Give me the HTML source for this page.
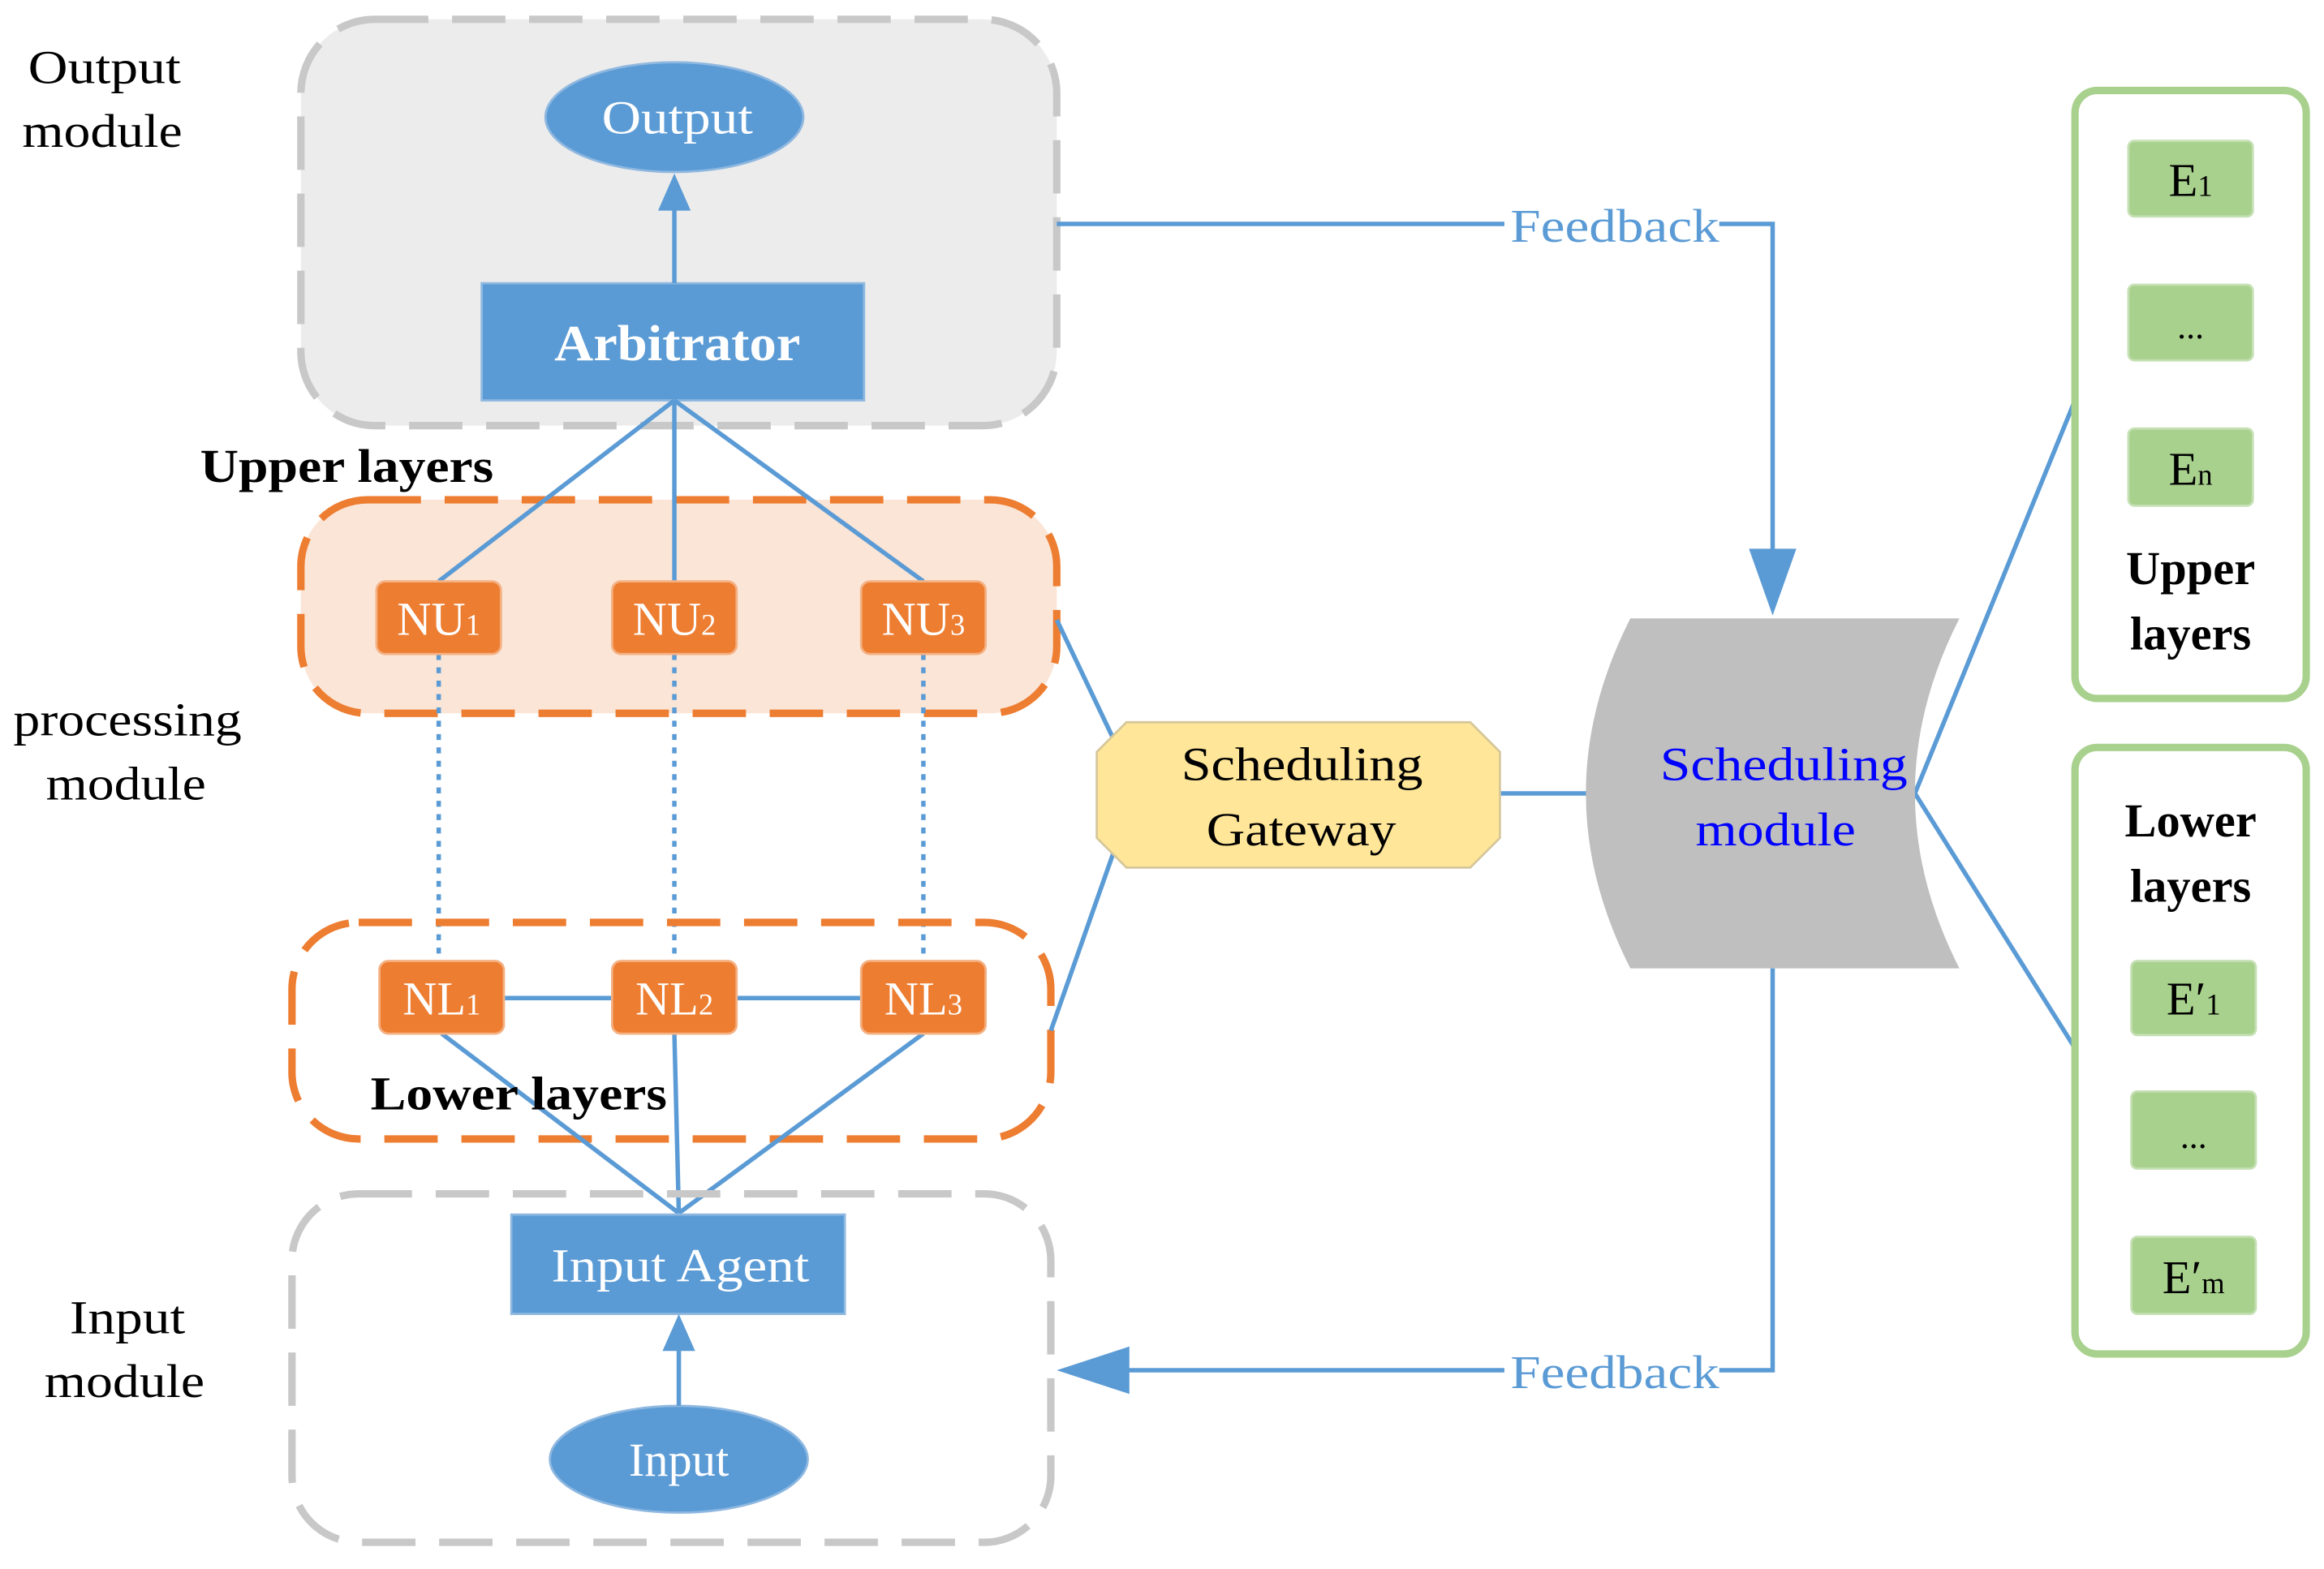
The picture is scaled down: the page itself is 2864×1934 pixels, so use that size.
<!DOCTYPE html>
<html><head><meta charset="utf-8"><style>html,body{margin:0;padding:0;background:#fff}svg{display:block}</style></head>
<body>
<svg width="2864" height="1934" viewBox="0 0 1568 1058" preserveAspectRatio="none" xmlns="http://www.w3.org/2000/svg" font-family="Liberation Serif, serif">
<!-- Output module -->
<rect x="203" y="13" width="510" height="274" rx="50" fill="#ececec" stroke="#c8c8c8" stroke-width="5" stroke-dasharray="36,16"/>
<ellipse cx="455" cy="79" rx="87" ry="37" fill="#5b9bd5" stroke="#8fb8e0" stroke-width="1.5"/>
<text x="406" y="90" font-size="32" fill="#fff" textLength="102" lengthAdjust="spacingAndGlyphs">Output</text>
<rect x="325" y="191" width="258" height="79" fill="#5b9bd5" stroke="#8fb8e0" stroke-width="1.5"/>
<text x="374" y="243" font-size="34" font-weight="bold" fill="#fff" textLength="166" lengthAdjust="spacingAndGlyphs">Arbitrator</text>
<line x1="455" y1="191" x2="455" y2="140" stroke="#5b9bd5" stroke-width="3"/>
<polygon points="455,117 444,142 466,142" fill="#5b9bd5"/>
<!-- Processing upper -->
<text x="135" y="325" font-size="32" font-weight="bold" textLength="198" lengthAdjust="spacingAndGlyphs">Upper layers</text>
<rect x="203" y="337" width="510" height="144" rx="45" fill="#fbe5d6" stroke="#ed7d31" stroke-width="5" stroke-dasharray="36,16"/>
<g stroke="#5b9bd5" stroke-width="3">
<line x1="455" y1="270" x2="296" y2="392"/><line x1="455" y1="270" x2="455" y2="392"/><line x1="455" y1="270" x2="623" y2="392"/>
</g>
<g stroke="#5b9bd5" stroke-width="3" stroke-dasharray="4,5">
<line x1="296" y1="441" x2="296" y2="648"/><line x1="455" y1="441" x2="455" y2="648"/><line x1="623" y1="441" x2="623" y2="648"/>
</g>
<!-- Lower -->
<rect x="197" y="622" width="512" height="146" rx="45" fill="none" stroke="#ed7d31" stroke-width="5" stroke-dasharray="36,16"/>
<g stroke="#5b9bd5" stroke-width="3">
<line x1="340" y1="673" x2="413" y2="673"/><line x1="497" y1="673" x2="581" y2="673"/>
<line x1="298" y1="697" x2="458" y2="818"/><line x1="455" y1="697" x2="458" y2="818"/><line x1="623" y1="697" x2="458" y2="818"/>
</g>
<g fill="#ed7d31" stroke="#f4b183" stroke-width="1.5">
<rect x="254" y="392" width="84" height="49" rx="6"/><rect x="413" y="392" width="84" height="49" rx="6"/><rect x="581" y="392" width="84" height="49" rx="6"/>
<rect x="256" y="648" width="84" height="49" rx="6"/><rect x="413" y="648" width="84" height="49" rx="6"/><rect x="581" y="648" width="84" height="49" rx="6"/>
</g>
<g fill="#fff" font-size="32" text-anchor="middle">
<text x="296" y="428">NU<tspan font-size="20">1</tspan></text>
<text x="455" y="428">NU<tspan font-size="20">2</tspan></text>
<text x="623" y="428">NU<tspan font-size="20">3</tspan></text>
<text x="298" y="684">NL<tspan font-size="20">1</tspan></text>
<text x="455" y="684">NL<tspan font-size="20">2</tspan></text>
<text x="623" y="684">NL<tspan font-size="20">3</tspan></text>
</g>
<text x="250" y="748" font-size="32" font-weight="bold" textLength="200" lengthAdjust="spacingAndGlyphs">Lower layers</text>
<!-- Input module -->
<rect x="197" y="805" width="512" height="235" rx="45" fill="none" stroke="#c8c8c8" stroke-width="5" stroke-dasharray="36,16"/>
<rect x="345" y="819" width="225" height="67" fill="#5b9bd5" stroke="#8fb8e0" stroke-width="1.5"/>
<text x="372" y="864" font-size="32" fill="#fff" textLength="174" lengthAdjust="spacingAndGlyphs">Input Agent</text>
<ellipse cx="458" cy="984" rx="87" ry="36" fill="#5b9bd5" stroke="#8fb8e0" stroke-width="1.5"/>
<text x="458" y="995" font-size="32" fill="#fff" text-anchor="middle">Input</text>
<line x1="458" y1="948" x2="458" y2="908" stroke="#5b9bd5" stroke-width="3"/>
<polygon points="458,886 447,911 469,911" fill="#5b9bd5"/>
<!-- Left labels -->
<g font-size="32">
<text x="19" y="56" textLength="103" lengthAdjust="spacingAndGlyphs">Output</text><text x="15" y="99" textLength="108" lengthAdjust="spacingAndGlyphs">module</text>
<text x="9" y="496" textLength="154" lengthAdjust="spacingAndGlyphs">processing</text><text x="31" y="539" textLength="108" lengthAdjust="spacingAndGlyphs">module</text>
<text x="47" y="899" textLength="78" lengthAdjust="spacingAndGlyphs">Input</text><text x="30" y="942" textLength="108" lengthAdjust="spacingAndGlyphs">module</text>
</g>
<!-- Connectors -->
<g stroke="#5b9bd5" stroke-width="3" fill="none">
<polyline points="713,151 1015,151"/>
<polyline points="1160,151 1196,151 1196,375"/>
<line x1="713" y1="418" x2="753" y2="502"/><line x1="709" y1="695" x2="753" y2="570"/>
<line x1="1012" y1="535" x2="1072" y2="535"/>
<line x1="1292" y1="535" x2="1402" y2="265"/><line x1="1292" y1="535" x2="1402" y2="710"/>
<polyline points="1196,653 1196,924 1160,924"/>
<polyline points="1015,924 758,924"/>
</g>
<polygon points="1196,415 1180,370 1212,370" fill="#5b9bd5"/>
<polygon points="713,924 762,908 762,940" fill="#5b9bd5"/>
<g font-size="32" fill="#5b9bd5">
<text x="1019" y="163" textLength="141" lengthAdjust="spacingAndGlyphs">Feedback</text>
<text x="1019" y="936" textLength="141" lengthAdjust="spacingAndGlyphs">Feedback</text>
</g>
<!-- Gateway -->
<polygon points="760,487 992,487 1012,507 1012,565 992,585 760,585 740,565 740,507" fill="#ffe699" stroke="#d6c79a" stroke-width="1.5"/>
<g font-size="32"><text x="797" y="526" textLength="163" lengthAdjust="spacingAndGlyphs">Scheduling</text><text x="814" y="570" textLength="128" lengthAdjust="spacingAndGlyphs">Gateway</text></g>
<!-- Scheduling module -->
<path d="M1100,417 L1322,417 Q1262,535 1322,653 L1100,653 Q1040,535 1100,417 Z" fill="#bfbfbf"/>
<g font-size="32" fill="#0000ff"><text x="1120" y="526" textLength="167" lengthAdjust="spacingAndGlyphs">Scheduling</text><text x="1144" y="570" textLength="108" lengthAdjust="spacingAndGlyphs">module</text></g>
<!-- Green boxes -->
<rect x="1400" y="61" width="156" height="410" rx="15" fill="#fff" stroke="#a9d18e" stroke-width="5"/>
<rect x="1400" y="504" width="156" height="409" rx="15" fill="#fff" stroke="#a9d18e" stroke-width="5"/>
<g fill="#a9d18e" stroke="#c5e0b4" stroke-width="1.5">
<rect x="1436" y="95" width="84" height="51" rx="4"/><rect x="1436" y="192" width="84" height="51" rx="4"/><rect x="1436" y="289" width="84" height="52" rx="4"/>
<rect x="1438" y="648" width="84" height="50" rx="4"/><rect x="1438" y="736" width="84" height="52" rx="4"/><rect x="1438" y="834" width="84" height="52" rx="4"/>
</g>
<g font-size="32" text-anchor="middle">
<text x="1478" y="132">E<tspan font-size="20">1</tspan></text>
<text x="1478" y="228" font-size="24">...</text>
<text x="1478" y="327">E<tspan font-size="20">n</tspan></text>
<text x="1480" y="684">E′<tspan font-size="20">1</tspan></text>
<text x="1480" y="774" font-size="24">...</text>
<text x="1480" y="872">E′<tspan font-size="20">m</tspan></text>
</g>
<g font-size="32" font-weight="bold" text-anchor="middle">
<text x="1478" y="394">Upper</text><text x="1478" y="438">layers</text>
<text x="1478" y="564">Lower</text><text x="1478" y="608">layers</text>
</g>
</svg>
</body></html>
